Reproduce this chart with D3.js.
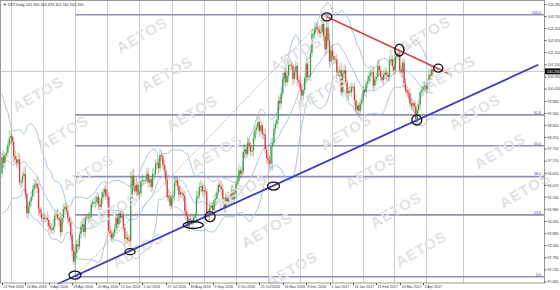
<!DOCTYPE html>
<html>
<head>
<meta charset="utf-8">
<script src="https://cdn.jsdelivr.net/npm/d3@7/dist/d3.min.js"></script>
<style>
    body { margin: 0; background: #fff; }
    svg { display: block; font-family: "Liberation Sans", Arial, sans-serif; }
</style>
</head>
<body>
<svg id="chart"></svg>
<script>
// DXY daily closes (19 bars before the first visible one feed the bands)
var priorCloses = [99.45, 99.05, 99.35, 98.70, 99.60, 99.55, 99.00, 97.25, 96.85, 97.05,
    96.75, 96.05, 96.05, 95.40, 96.05, 96.30, 96.90, 96.95, 96.60];

var closes = [
    97.35, 97.10, 97.45, 97.55, 97.90, 98.20, 98.30, 98.05, 97.40, 97.25, 97.10, 97.25, 96.20, 96.20,
    96.50, 96.60, 95.70, 94.80, 95.10, 95.35, 95.55, 95.90, 96.10, 96.15, 95.95, 95.00, 94.80, 94.60, 94.55, 94.60,
    94.60, 94.50, 94.20, 94.10, 94.05, 94.20, 94.70, 94.75, 94.60, 94.50, 93.95, 94.60, 95.00, 95.10, 94.90, 94.60, 94.40, 93.80, 93.10, 92.60, 93.00,
    93.40, 93.30, 93.85, 94.20, 94.30, 93.95, 94.60, 94.65, 94.60, 94.60, 95.20, 95.30, 95.30, 95.30, 95.55, 95.20, 95.10, 95.50, 95.75, 95.90, 95.60, 95.55,
    94.00, 93.90, 93.70, 93.90, 94.10, 94.60, 94.30, 94.80, 94.60, 94.70, 94.15, 93.65, 93.70, 93.60, 93.55, 95.50,
    96.50, 96.05, 95.80, 96.10, 95.65, 95.70, 96.25, 96.30, 96.30, 96.30, 96.60, 96.20, 96.35, 96.00, 96.60, 96.60, 97.05, 97.10, 96.85, 97.45, 97.40, 97.00, 96.75, 96.30,
    95.55, 95.60, 95.15, 95.50, 95.60, 96.20, 96.30, 96.05, 95.65, 95.75, 95.70, 95.60, 94.90, 94.70, 94.20, 94.55, 94.50, 94.45, 94.60, 94.70, 95.50, 95.60, 96.00, 96.05,
    95.80, 95.85, 95.80, 94.80, 94.65, 95.05, 95.15, 94.95, 95.40, 95.45, 95.75, 96.10, 96.00, 95.90, 95.35, 95.05, 95.50, 95.35, 95.60, 95.45, 95.85, 95.45, 95.70,
    96.15, 96.25, 96.75, 96.60, 96.70, 97.60, 97.70, 97.50, 98.00, 97.90, 97.60, 97.65, 98.20, 98.60, 98.70, 98.95, 98.55, 98.80, 98.40, 98.40, 97.70, 97.30, 97.20, 97.05,
    97.85, 98.00, 98.65, 98.85, 99.05, 99.90, 99.80, 100.25, 100.90, 101.20, 100.75, 101.05, 101.55, 101.55, 101.50, 100.90, 101.20, 101.50, 100.85, 100.75, 100.45, 100.15,
    100.40, 100.95, 101.60, 101.00, 101.05, 102.10, 102.95, 102.95, 103.20, 103.25, 103.15, 103.00, 103.05, 103.40, 102.85, 102.25, 103.25,
    102.65, 101.70, 102.20, 101.95, 101.80, 101.80, 101.20, 101.20, 101.30, 100.30, 101.15, 101.30, 100.75, 100.25, 100.35, 100.30, 100.55, 100.55, 99.95, 99.50, 99.70, 99.45, 99.80, 99.95, 100.40, 100.30, 100.70, 100.80,
    101.05, 101.20, 101.20, 100.60, 100.90, 101.00, 101.50, 101.30, 101.00, 100.85, 101.10, 101.20, 101.10, 101.00, 101.70, 101.80, 101.50, 101.30, 101.90, 102.00, 102.05,
    101.30, 101.20, 101.65, 100.70, 100.40, 100.30, 100.25, 99.80, 99.70, 99.80, 99.65, 99.10, 99.50, 99.75, 100.30, 100.40, 100.55, 100.60, 100.45, 100.70, 101.10, 101.05, 101.35, 101.25
];

// upper / lower shadow length of each candle (price units)
var wickHi = [
    .22,.31,.14,.27,.18,.35,.30,.12,.20,.26,.17,.33,.24,.15,.21,.28,.36,.19,.23,.13,
    .26,.18,.29,.16,.34,.22,.11,.27,.19,.24,.15,.30,.21,.17,.25,.38,.23,.14,.28,.20,
    .32,.18,.24,.16,.21,.27,.13,.22,.29,.33,.35,.19,.26,.14,.23,.31,.28,.17,.12,.24,
    .27,.19,.16,.22,.29,.21,.14,.25,.30,.18,.13,.34,.26,.21,.28,.17,.15,.23,.32,.19,
    .14,.24,.27,.18,.16,.22,.29,.21,1.20,.28,.33,.19,.26,.17,.14,.23,.30,.20,.16,.25,
    .29,.18,.13,.24,.27,.21,.15,.19,.31,.22,.14,.26,.28,.17,.33,.20,.16,.23,.27,.18,
    .15,.24,.29,.19,.13,.22,.30,.21,.17,.25,.28,.16,.14,.36,.24,.20,.31,.18,.26,.22,
    .13,.21,.27,.19,.16,.25,.30,.18,.14,.23,.28,.20,.17,.24,.29,.15,.12,.22,.27,.19,
    .16,.25,.31,.18,.14,.33,.27,.22,.29,.20,.15,.23,.28,.19,.16,.35,.26,.21,.14,.24,
    .30,.19,.17,.22,.36,.25,.29,.18,.32,.27,.21,.34,.28,.31,.20,.26,.18,.29,.22,.15,
    .23,.27,.14,.21,.30,.24,.16,.19,.28,.22,.13,.33,.26,.19,.29,.23,.15,.21,.27,.18,
    .26,.34,.57,.28,.32,.21,.27,.19,.16,.24,.29,.18,.35,.22,.26,.20,.14,.23,.28,.19,
    .15,.22,.27,.18,.13,.24,.29,.21,.16,.20,.26,.19,.14,.23,.28,.21,.17,.25,.30,.19,
    .16,.22,.27,.20,.14,.23,.45,.19,.28,.21,.17,.20,.24,.22,.15,.21,.26,.19,.16,.22,
    .27,.20,.14,.23,.28,.21,.15,.19,.26,.22,.16,.21,.28,.20,.15,.12
];
var wickLo = [
    .18,.24,.29,.15,.21,.13,.26,.19,.32,.17,.23,.28,.14,.30,.20,.16,.25,.20,.27,.18,
    .22,.15,.28,.19,.24,.31,.17,.21,.26,.14,.23,.29,.18,.25,.16,.22,.27,.19,.13,.30,
    .24,.17,.21,.28,.15,.26,.19,.23,.31,.15,.68,.22,.27,.16,.20,.25,.18,.29,.14,.23,
    .19,.26,.15,.21,.28,.17,.24,.20,.13,.27,.22,.18,.30,.15,.23,.19,.26,.14,.21,.28,
    .17,.25,.20,.16,.29,.22,.18,.24,.50,.20,.27,.15,.23,.19,.28,.16,.21,.25,.18,.14,
    .26,.20,.23,.17,.29,.15,.22,.27,.19,.24,.16,.21,.28,.18,.25,.20,.14,.26,.22,.17,
    .23,.29,.16,.21,.27,.19,.15,.12,.24,.20,.28,.17,.22,.26,.18,.14,.25,.21,.29,.16,
    .19,.23,.27,.15,.22,.18,.26,.20,.14,.24,.28,.17,.21,.25,.19,.16,.23,.27,.18,.22,
    .26,.15,.20,.24,.19,.17,.28,.22,.14,.25,.21,.18,.27,.16,.23,.19,.29,.15,.22,.26,
    .20,.24,.17,.21,.28,1.10,.19,.25,.22,.16,.30,.23,.18,.27,.21,.15,.26,.24,.19,.28,
    .17,.22,.26,.20,.14,.29,.23,.18,.25,.21,.16,.24,.19,.28,.22,.17,.26,.20,.23,.15,
    .21,.27,.18,.24,.30,.22,.17,.25,.20,.28,.19,.23,.16,.26,.21,.18,.24,.29,.15,.22,
    .20,.25,.17,.23,.28,.19,.26,.21,.16,.24,.22,.18,.27,.20,.25,.15,.23,.19,.28,.21,
    .17,.24,.20,.26,.22,.18,.16,.25,.21,.19,.27,.23,.17,.22,.26,.20,.15,.24,.28,.19,
    .23,.18,.26,.25,.21,.17,.24,.20,.27,.22,.19,.16,.23,.20,.18,.14
];

var dateLabels = ["22 Feb 2016", "14 Mar 2016", "6 Apr 2016", "28 Apr 2016", "20 May 2016", "13 Jun 2016",
    "5 Jul 2016", "27 Jul 2016", "18 Aug 2016", "9 Sep 2016", "3 Oct 2016", "25 Oct 2016", "16 Nov 2016",
    "8 Dec 2016", "2 Jan 2017", "24 Jan 2017", "15 Feb 2017", "10 Mar 2017", "3 Apr 2017"];
var dateLabelBars = [0, 16, 32, 48, 64, 80, 96, 112, 128, 144, 160, 176, 192, 208, 224, 240, 256, 272, 288];

var priceTicks = [104.280, 103.740, 103.200, 102.650, 102.100, 101.550, 100.990, 100.450, 99.880, 99.340,
    98.800, 98.250, 97.720, 97.170, 96.620, 96.070, 95.530, 94.980, 94.430, 93.880, 93.330, 92.780, 92.230, 91.680];

var gridBars = [6, 28, 50, 72, 94, 116, 138, 160, 182, 204, 226, 247, 268, 290, 315];

var fibLevels = [0, 23.6, 38.2, 50, 61.8, 100];
var fibLabels = ["0.0", "23.6", "38.2", "50.0", "61.8", "100.0"];

// trend lines as [bar, price]
var supportLine = [[38, 91.59], [366.8, 101.55]];
var resistLine = [[222.1, 103.73], [307.6, 101.09]];

// circled touch points
var markerBars = [49.9, 87.6, 130.8, 142.3, 185.7, 222.1, 271.8, 283.7, 298.4];
var markerPrices = [91.99, 93.06, 94.27, 94.65, 96.04, 103.73, 102.22, 99.04, 101.40];
var markerRx = [6, 5, 10, 5, 6, 5, 4.5, 5, 4.5];
var markerRy = [4, 3, 3.5, 5, 4, 4, 6, 5, 4];

var width = 560, height = 290;
var plotW = 544, plotH = 283;
var upColor = "#35a045", downColor = "#dc3c36", bandColor = "#a9c6de";

var svg = d3.select("#chart").attr("width", width).attr("height", height);

var x = d3.scaleLinear().domain([-1.37, 370.7]).range([0, plotW]);
var y = d3.scaleLinear().domain([91.68, 104.28]).range([282, 4.7]);

svg.append("defs").append("clipPath").attr("id", "plot")
    .append("rect").attr("x", 0).attr("y", 0).attr("width", plotW).attr("height", plotH);

var bars = closes.map(function (c, i) {
    var o = i === 0 ? priorCloses[priorCloses.length - 1] : closes[i - 1];
    return {i: i, o: o, c: c, h: Math.max(o, c) + wickHi[i], l: Math.min(o, c) - wickLo[i]};
});

// bollinger bands 20, 2
var all = priorCloses.concat(closes);
var bands = closes.map(function (c, i) {
    var win = all.slice(i, i + 20);
    var m = d3.mean(win);
    var sd = Math.sqrt(d3.mean(win, function (v) { return (v - m) * (v - m); }));
    return {i: i, mid: m, up: m + 2 * sd, lo: m - 2 * sd};
});

var plot = svg.append("g").attr("clip-path", "url(#plot)");

// vertical grid
plot.append("g").selectAll("line").data(gridBars).enter().append("line")
    .attr("x1", function (d) { return Math.round(x(d)) + 0.5; })
    .attr("x2", function (d) { return Math.round(x(d)) + 0.5; })
    .attr("y1", 0).attr("y2", plotH)
    .style("stroke", "#c9c9d2").style("stroke-width", 1);

// watermark, only the copies that fit whole in the window
var marks = [];
for (var r = -3; r < 9; r++) {
    for (var c = -1; c < 6; c++) {
        marks.push([13 + c * 129 + r * 25, 55 - c * 20 + r * 39]);
    }
}

svg.append("g").selectAll("text").data(marks.filter(function (d) {
        return d[0] > 28 && d[0] < 532 && d[1] > 20 && d[1] < 270;
    })).enter().append("text")
    .attr("transform", function (d) { return "translate(" + d[0] + "," + d[1] + ") rotate(-30)"; })
    .attr("text-anchor", "middle")
    .attr("dy", "0.35em")
    .style("font-size", "15px").style("font-weight", "bold").style("letter-spacing", "1px")
    .style("fill", "#e2e2e2")
    .text("AETOS");

// current price line
var last = bars[bars.length - 1];
plot.append("line")
    .attr("x1", 0).attr("x2", plotW)
    .attr("y1", y(last.c)).attr("y2", y(last.c))
    .style("stroke", "#c8c8c8").style("stroke-width", 1);

// fibonacci retracement
var fibLow = d3.min(bars, function (d) { return d.l; });
var fibHigh = d3.max(bars, function (d) { return d.h; });
var lowBar = bars.find(function (d) { return d.l === fibLow; }).i;
var highBar = bars.find(function (d) { return d.h === fibHigh; }).i;

plot.append("line")
    .attr("x1", x(lowBar)).attr("y1", y(fibLow))
    .attr("x2", x(highBar)).attr("y2", y(fibHigh))
    .style("stroke", "#a8a8a8").style("stroke-width", 1).style("stroke-dasharray", "1.5,1.5");

var fib = plot.append("g").selectAll("g").data(fibLevels).enter().append("g");
fib.append("line")
    .attr("x1", x(lowBar)).attr("x2", plotW)
    .attr("y1", function (d) { return y(fibLow + (fibHigh - fibLow) * d / 100); })
    .attr("y2", function (d) { return y(fibLow + (fibHigh - fibLow) * d / 100); })
    .style("stroke", "#8f8fb8").style("stroke-width", 1.6);
fib.append("text")
    .attr("x", plotW - 3)
    .attr("y", function (d) { return y(fibLow + (fibHigh - fibLow) * d / 100) - 1.2; })
    .attr("text-anchor", "end")
    .style("font-size", "3.6px").style("fill", "#3535a8")
    .text(function (d, i) { return fibLabels[i]; });

// bands
["up", "mid", "lo"].forEach(function (k) {
    plot.append("path").datum(bands)
        .attr("d", d3.line().x(function (d) { return x(d.i); }).y(function (d) { return y(d[k]); }))
        .style("fill", "none").style("stroke", bandColor).style("stroke-width", 1);
});

// candles
var candle = plot.append("g").selectAll("g").data(bars).enter().append("g")
    .style("fill", function (d) { return d.c >= d.o ? upColor : downColor; })
    .style("stroke", function (d) { return d.c >= d.o ? upColor : downColor; });
candle.append("line")
    .attr("x1", function (d) { return x(d.i); }).attr("x2", function (d) { return x(d.i); })
    .attr("y1", function (d) { return y(d.h); }).attr("y2", function (d) { return y(d.l); })
    .style("stroke-width", 0.8).style("stroke-opacity", 0.55);
candle.append("rect")
    .attr("x", function (d) { return x(d.i) - 0.65; })
    .attr("width", 1.3)
    .attr("y", function (d) { return y(Math.max(d.o, d.c)); })
    .attr("height", function (d) { return Math.max(0.8, Math.abs(y(d.o) - y(d.c))); })
    .style("stroke", "none");

// trend lines
svg.append("line")
    .attr("x1", x(supportLine[0][0])).attr("y1", y(supportLine[0][1]))
    .attr("x2", x(supportLine[1][0])).attr("y2", y(supportLine[1][1]))
    .style("stroke", "#3b3bc4").style("stroke-width", 1.8);
plot.append("line")
    .attr("x1", x(resistLine[0][0])).attr("y1", y(resistLine[0][1]))
    .attr("x2", x(resistLine[1][0])).attr("y2", y(resistLine[1][1]))
    .style("stroke", "#d44545").style("stroke-width", 1.6);

// circles
svg.append("g").selectAll("ellipse").data(markerBars).enter().append("ellipse")
    .attr("cx", function (d) { return x(d); })
    .attr("cy", function (d, i) { return y(markerPrices[i]); })
    .attr("rx", function (d, i) { return markerRx[i]; })
    .attr("ry", function (d, i) { return markerRy[i]; })
    .style("fill", "none").style("stroke", "#111").style("stroke-width", 1.3);

// frame
svg.append("rect").attr("x", 0.5).attr("y", 0.5).attr("width", plotW).attr("height", plotH - 0.5)
    .style("fill", "none").style("stroke", "#9a9a9a").style("stroke-width", 1);

// price axis
var yAxis = svg.append("g").selectAll("g").data(priceTicks).enter().append("g")
    .attr("transform", function (d) { return "translate(" + plotW + "," + y(d) + ")"; });
yAxis.append("line").attr("x1", 0.5).attr("x2", 2.5).style("stroke", "#555");
yAxis.append("text").attr("x", 3.5).attr("dy", "0.35em")
    .style("font-size", "3.6px").style("fill", "#333")
    .text(function (d) { return d.toFixed(3); });

// current price tag
svg.append("rect").attr("x", plotW + 1).attr("y", y(last.c) - 3).attr("width", 15).attr("height", 6)
    .style("fill", "#111");
svg.append("text").attr("x", plotW + 3).attr("y", y(last.c)).attr("dy", "0.35em")
    .style("font-size", "3.6px").style("fill", "#fff")
    .text(last.c.toFixed(3));

// date axis
var xAxis = svg.append("g").selectAll("g").data(dateLabelBars).enter().append("g")
    .attr("transform", function (d) { return "translate(" + (Math.round(x(d)) + 0.5) + "," + plotH + ")"; });
xAxis.append("line").attr("y1", 0).attr("y2", 2).style("stroke", "#555");
xAxis.append("text").attr("x", 1).attr("y", 5)
    .style("font-size", "3.6px").style("fill", "#333")
    .text(function (d, i) { return dateLabels[i]; });

// header
svg.append("text").attr("x", 3).attr("y", 5.5)
    .style("font-size", "3.8px").style("fill", "#222")
    .text("\u25BC DXY,Daily  " + [last.o, last.h, last.l, last.c].map(function (v) { return v.toFixed(3); }).join(" "));
</script>
</body>
</html>
